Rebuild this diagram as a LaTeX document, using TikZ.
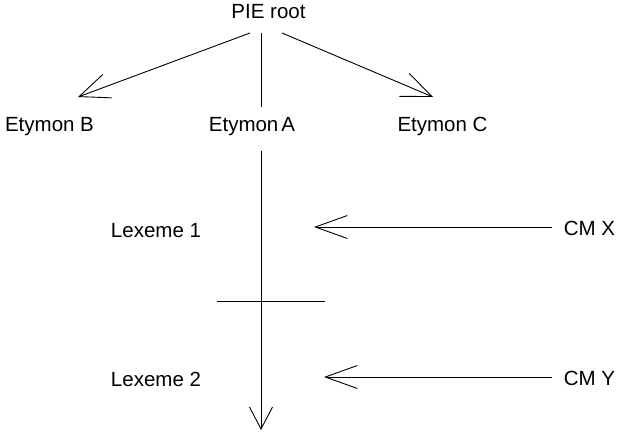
\documentclass[tikz,border=0pt]{standalone}
\usepackage{fontspec}
\setmainfont{Liberation Sans}
\usetikzlibrary{arrows.meta}
\begin{document}
\begin{tikzpicture}[x=1pt,y=-1pt,
  lbl/.style={anchor=base,inner sep=0pt,font=\fontsize{20.5}{24}\selectfont},
  link/.style={line width=0.9pt},
  vtip/.style={-{Straight Barb[length=30pt,width=25pt,line width=0.9pt]}},
  htip/.style={-{Straight Barb[length=32pt,width=23pt,line width=0.9pt]}},
  dtip/.style={-{Straight Barb[length=22pt,width=23pt,line width=0.9pt]}}]
\useasboundingbox (0,0) rectangle (617,433);

% labels
\node[lbl] (root) at (268.5,19) {PIE root};
\node[lbl] (etB) at (49.5,131) {Etymon B};
\node[lbl] (etA) at (252,131) {Etymon\hspace{0.15em}A};
\node[lbl] (etC) at (442.5,131) {Etymon C};
\node[lbl] (lex1) at (156,237) {Lexeme 1};
\node[lbl] (lex2) at (156,386) {Lexeme 2};
\node[lbl] (cmx) at (589.5,235) {CM X};
\node[lbl] (cmy) at (589.5,385) {CM Y};

% end points of the connectors
\coordinate (rB) at (250,33);
\coordinate (rA) at (261,33);
\coordinate (rC) at (282,33);
\coordinate (tB) at (78,97);
\coordinate (tA) at (261,107);
\coordinate (tC) at (433,97);
\coordinate (aTop) at (261,151);
\coordinate (aEnd) at (261,430);
\coordinate (tickL) at (217,301);
\coordinate (tickR) at (325,301);
\coordinate (xStart) at (552,227);
\coordinate (xEnd) at (314,227);
\coordinate (yStart) at (552,377);
\coordinate (yEnd) at (324,377);

% derivation from the root
\draw[link,vtip] (rB) -- (tB);
\draw[link] (rA) -- (tA);
\draw[link,vtip] (rC) -- (tC);

% line of descent of Etymon A
\draw[link,dtip] (aTop) -- (aEnd);
\draw[link] (tickL) -- (tickR);

% contributing morphemes
\draw[link,htip] (xStart) -- (xEnd);
\draw[link,htip] (yStart) -- (yEnd);
\end{tikzpicture}
\end{document}
